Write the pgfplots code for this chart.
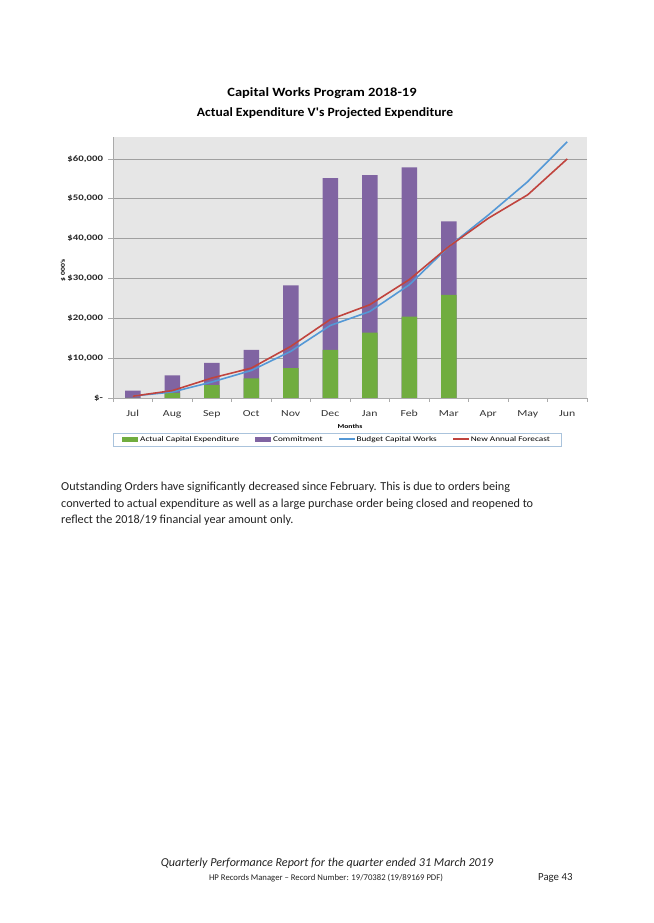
\documentclass[border=0pt]{standalone}
\usepackage{pgfplots}
\pgfplotsset{compat=1.18}
\usepackage{pgfplotstable}
\usepackage{fontspec}
\setmainfont{Carlito}
\newfontfamily\chartfont[FakeStretch=1.28]{Carlito}
\newfontfamily\titlefont[FakeStretch=1.15]{Carlito}
\newfontfamily\titlefontb[FakeStretch=1.08]{Carlito}

\definecolor{cgreen}{RGB}{112,173,63}
\definecolor{cpurple}{RGB}{128,100,162}
\definecolor{cblue}{RGB}{84,152,214}
\definecolor{cred}{RGB}{192,68,62}
\definecolor{plotbg}{RGB}{230,230,230}
\definecolor{gridgray}{RGB}{160,160,160}
\definecolor{axisgray}{RGB}{170,170,170}
\definecolor{legendborder}{RGB}{170,195,220}
\definecolor{textcol}{RGB}{35,35,35}

\pgfplotstableread{
m actual commit
0 0 1850
1 1300 4400
2 3250 5550
3 4950 7150
4 7500 20750
5 12100 43050
6 16400 39500
7 20450 37450
8 25900 18450
}\bars

\pgfplotstableread{
m budget forecast
0 500 450
1 1500 1850
2 4000 5000
3 6900 7500
4 11700 12950
5 18200 19700
6 21700 23400
7 28400 29700
8 38000 38000
9 45900 45100
10 54300 51000
11 64300 60000
}\lines

\begin{document}
\begin{tikzpicture}
\path[use as bounding box, fill=white] (0pt,0pt) rectangle (653pt,923pt);

% titles
\node[anchor=base, font=\titlefont\bfseries\fontsize{12.6}{14}\selectfont, text=black, inner sep=0pt] at (322pt,826pt) {Capital Works Program 2018-19};
\node[anchor=base, font=\titlefontb\bfseries\fontsize{12.6}{14}\selectfont, text=black, inner sep=0pt] at (325pt,806pt) {Actual Expenditure V's Projected Expenditure};

\begin{axis}[
  at={(113pt,525pt)}, anchor=south west,
  scale only axis, width=474pt, height=261pt,
  xmin=-0.5, xmax=11.5, ymin=0, ymax=65500,
  scaled y ticks=false,
  axis background/.style={fill=plotbg},
  axis x line*=bottom, axis y line*=left,
  x axis line style={draw=axisgray, line width=0.6pt, -},
  y axis line style={draw=axisgray, line width=0.6pt, -},
  xtick={0,...,11},
  xticklabels={Jul,Aug,Sep,Oct,Nov,Dec,Jan,Feb,Mar,Apr,May,Jun},
  minor xtick={-0.5,0.5,...,11.5},
  major tick length=5pt, minor tick length=4pt,
  tick align=outside,
  major x tick style={draw=none},
  minor x tick style={draw=axisgray, line width=0.6pt},
  ytick={0,10000,20000,30000,40000,50000,60000},
  yticklabels={{\$-},{\$10,000},{\$20,000},{\$30,000},{\$40,000},{\$50,000},{\$60,000}},
  major y tick style={draw=axisgray, line width=0.6pt},
  ymajorgrids, major grid style={draw=gridgray, line width=0.8pt},
  yticklabel style={font=\chartfont\bfseries\fontsize{8.4}{9}\selectfont, text=black!85, xshift=-1.5pt},
  xticklabel style={font=\chartfont\fontsize{9.2}{10}\selectfont, text=black!80, anchor=base, yshift=-13.5pt},
  xlabel={Months},
  xlabel style={font=\chartfont\bfseries\fontsize{6}{7}\selectfont, at={(axis description cs:0.5,-0.107)}, anchor=center},
  ylabel={\$ 000's},
  ylabel style={font=\chartfont\bfseries\fontsize{6}{7}\selectfont, at={(axis description cs:-0.105,0.49)}, anchor=center},
  legend columns=4,
  legend style={at={(0.4726,-0.159)}, anchor=center, draw=legendborder, fill=white,
    font=\chartfont\fontsize{7.2}{8}\selectfont, inner xsep=9pt, inner ysep=1.5pt,
    /tikz/every even column/.append style={column sep=14pt}},
  clip=false,
]
\addlegendimage{legend image code/.code={\fill[fill=cgreen, draw=none] (0pt,-2.5pt) rectangle (16pt,2.5pt);}}
\addlegendentry{Actual Capital Expenditure}
\addlegendimage{legend image code/.code={\fill[fill=cpurple, draw=none] (0pt,-2.5pt) rectangle (16pt,2.5pt);}}
\addlegendentry{Commitment}
\addlegendimage{legend image code/.code={\fill[fill=cblue, draw=none] (0pt,-1pt) rectangle (16pt,1pt);}}
\addlegendentry{Budget Capital Works}
\addlegendimage{legend image code/.code={\fill[fill=cred, draw=none] (0pt,-1pt) rectangle (16pt,1pt);}}
\addlegendentry{New Annual Forecast}

\addplot[forget plot, ybar, bar shift=0pt, bar width=15.5pt, fill=cpurple, draw=none]
  table[x=m, y expr=\thisrow{actual}+\thisrow{commit}] {\bars};
\addplot[forget plot, ybar, bar shift=0pt, bar width=15.5pt, fill=cgreen, draw=none]
  table[x=m, y=actual] {\bars};
\addplot[forget plot, sharp plot, no marks, cblue, line width=1.6pt]
  table[x=m, y=budget] {\lines};
\addplot[forget plot, sharp plot, no marks, cred, line width=1.6pt]
  table[x=m, y=forecast] {\lines};
\end{axis}

% paragraph
\node[anchor=base west, font=\fontsize{12.2}{13}\selectfont, text=textcol, inner sep=0pt] at (61pt,432pt) {Outstanding Orders have significantly decreased since February. This is due to orders being};
\node[anchor=base west, font=\fontsize{12.2}{13}\selectfont, text=textcol, inner sep=0pt] at (61pt,415.5pt) {converted to actual expenditure as well as a large purchase order being closed and reopened to};
\node[anchor=base west, font=\fontsize{12.2}{13}\selectfont, text=textcol, inner sep=0pt] at (61pt,399pt) {reflect the 2018/19 financial year amount only.};

% footer
\node[anchor=base, font=\itshape\fontsize{12.1}{13}\selectfont, text=textcol, inner sep=0pt] at (327pt,56.5pt) {Quarterly Performance Report for the quarter ended 31 March 2019};
\node[anchor=base, font=\fontsize{8.7}{10}\selectfont, text=textcol, inner sep=0pt] at (326pt,42pt) {HP Records Manager -- Record Number: 19/70382 (19/89169 PDF)};
\node[anchor=base west, font=\fontsize{10.8}{12}\selectfont, text=textcol, inner sep=0pt] at (538pt,42pt) {Page 43};
\end{tikzpicture}
\end{document}
